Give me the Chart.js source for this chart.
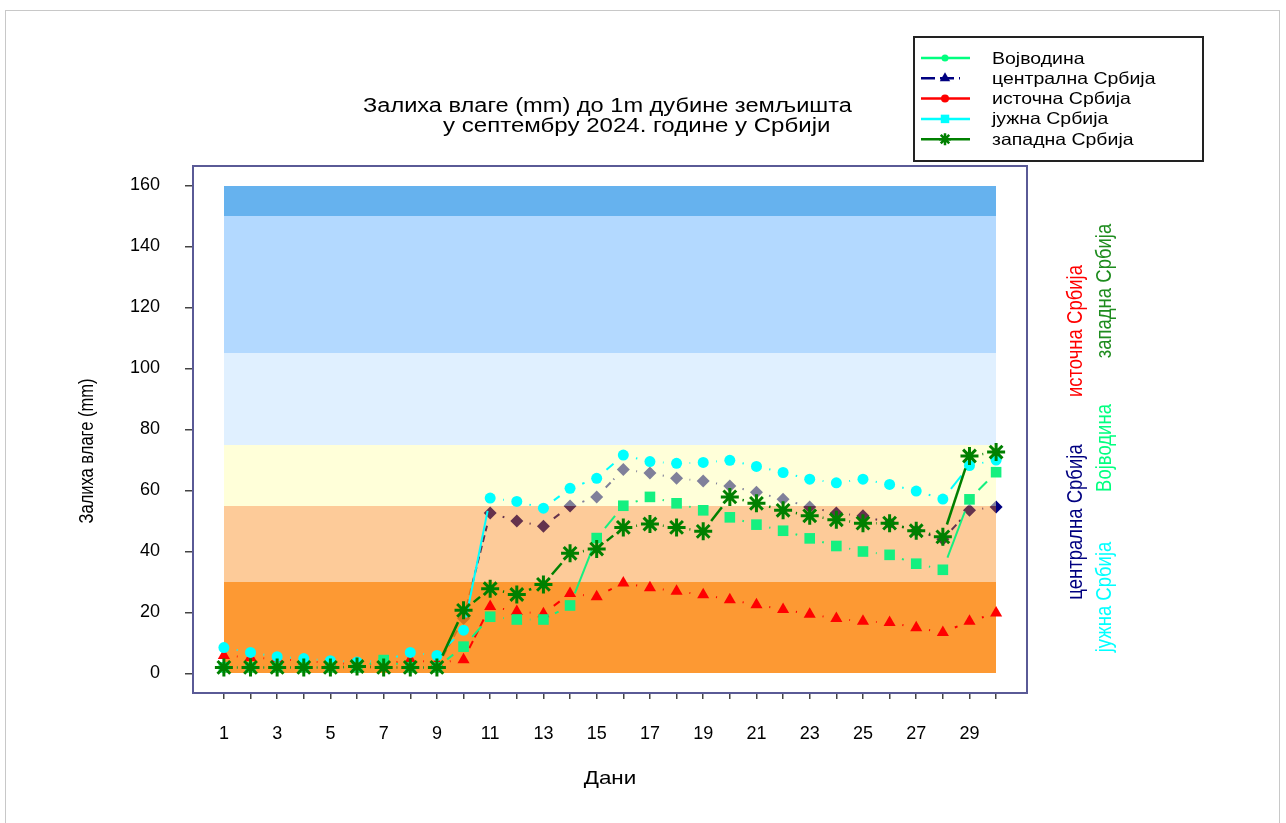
<!DOCTYPE html>
<html>
<head>
<meta charset="utf-8">
<script src="https://cdn.jsdelivr.net/npm/chart.js@4.4.1/dist/chart.umd.min.js"></script>
<style>
  html, body { margin: 0; padding: 0; background: #fff; }
  #wrap { position: relative; width: 1286px; height: 823px; }
</style>
</head>
<body>
<div id="wrap"><canvas id="chart" width="1286" height="823"></canvas></div>
<script>
// days of September 2024
const days = [1,2,3,4,5,6,7,8,9,10,11,12,13,14,15,16,17,18,19,20,21,22,23,24,25,26,27,28,29,30];
const xTickLabels = ['1','3','5','7','9','11','13','15','17','19','21','23','25','27','29'];
const yTicks = [0,20,40,60,80,100,120,140,160];

const regions = ['Војводина','централна Србија','источна Србија','јужна Србија','западна Србија'];

// soil moisture (mm)
const vojvodina  = [2,2,2,2,2,2,4.4,2,2,8.8,18.6,17.7,17.7,22.3,44.4,55,57.9,55.8,53.5,51.2,48.8,46.8,44.3,41.8,40,38.9,36,34,57.1,66];
const centralna  = [2,2,2,2,2,2,2,2,2,18,52.6,50,48.3,54.9,57.9,66.9,65.7,64,63.1,61.5,59.4,57.1,54.6,52.6,51.7,49.3,46.8,44,53.5,54.6];
const istocna    = [5.9,5.2,4.8,4,3.5,3,3,4.5,3.5,4.5,22,20.3,19.6,26.2,25.2,29.7,28.1,27,25.8,24.2,22.5,21,19.4,18,17.1,16.7,15,13.4,17.1,19.8];
const juzna      = [8.5,6.9,5.5,4.9,4.2,3.8,4.2,6.9,5.9,14.2,57.5,56.4,54.2,60.7,64,71.6,69.5,68.9,69.2,69.9,67.9,65.9,63.7,62.5,63.7,62,59.8,57.2,68.2,70];
const zapadna    = [2,2,2,2,2,2.3,2,2,2,20.7,27.8,25.9,29.2,39.4,40.8,47.9,49,47.9,46.6,57.9,55.8,53.5,51.7,50.4,49.3,49.3,46.8,44.8,71.3,72.6];

// background moisture classes
const bandLimits = [0,30,55,75,105,150,160];
const bandColors = ['#FD9933','#FDCB99','#FFFFD9','#E0F0FF','#B3D9FF','#66B2EE'];
const bandAlpha  = [0.85,0.4,0.5,0.5,0.5,0.75];

const FONT = '"Liberation Sans", Arial, sans-serif';
const SX = 1.18;          // text in the original is drawn a bit wide
const CENTRAL = 1;

function pts(vals) { return days.map((d, i) => ({ x: d, y: vals[i] })); }

function underColor(hex, a) {
  const n = parseInt(hex.slice(1), 16);
  const c = [n >> 16, (n >> 8) & 255, n & 255].map(v => Math.max(0, Math.min(255, Math.round((v - 255 * (1 - a)) / a))));
  return `rgba(${c[0]},${c[1]},${c[2]},${a})`;
}

function gappedLine(ctx, points, st, gap) {
  ctx.save();
  ctx.strokeStyle = st.color;
  ctx.lineWidth = st.width;
  ctx.setLineDash(st.dash || []);
  for (let i = 1; i < points.length; i++) {
    const a = points[i - 1], b = points[i];
    const dx = b.x - a.x, dy = b.y - a.y, len = Math.hypot(dx, dy);
    if (len <= 2 * gap) continue;
    const ux = dx / len, uy = dy / len;
    ctx.beginPath();
    ctx.moveTo(a.x + ux * gap, a.y + uy * gap);
    ctx.lineTo(b.x - ux * gap, b.y - uy * gap);
    ctx.stroke();
  }
  ctx.restore();
}

// horizontal text, widened like the original
function wideText(ctx, text, x, y, size, align, color, rot) {
  ctx.save();
  ctx.translate(x, y);
  if (rot) { ctx.rotate(rot); ctx.scale(1, SX); } else ctx.scale(SX, 1);
  ctx.font = size + 'px ' + FONT;
  ctx.textAlign = align;
  ctx.textBaseline = 'middle';
  ctx.fillStyle = color;
  ctx.fillText(text, 0, 0);
  ctx.restore();
}

const datasets = [
  { label: regions[0], data: pts(vojvodina), order: 1,
    pointStyle: 'rect', pointRadius: 7.5, pointBackgroundColor: '#14F080', pointBorderWidth: 0,
    gapLine: { color: '#14F080', width: 2 } },
  { label: regions[1], data: pts(centralna), order: 4,
    pointStyle: 'rectRot', pointRadius: 6.5, pointBackgroundColor: '#000080', pointBorderWidth: 0,
    gapLine: { color: '#000080', width: 2, dash: [7, 4] } },
  { label: regions[2], data: pts(istocna), order: 3,
    pointStyle: 'triangle', pointRadius: 7, pointBackgroundColor: '#FF0000', pointBorderWidth: 0,
    gapLine: { color: '#FF0000', width: 2, dash: [8, 4] } },
  { label: regions[3], data: pts(juzna), order: 2,
    pointStyle: 'circle', pointRadius: 5.5, pointBackgroundColor: '#00FFFF', pointBorderWidth: 0,
    gapLine: { color: '#00FFFF', width: 2 } },
  { label: regions[4], data: pts(zapadna), order: 0,
    pointStyle: 'star', pointRadius: 9, pointBackgroundColor: '#008000', pointBorderColor: '#008000', pointBorderWidth: 3,
    gapLine: { color: '#008000', width: 2.5 } }
];

const legendItems = [
  { color: '#00FF7F', style: 'circle', r: 3.5, dash: [] },
  { color: '#000080', style: 'triangle', r: 6, dash: [14, 5], short: true },
  { color: '#FF0000', style: 'circle', r: 4, dash: [] },
  { color: '#00FFFF', style: 'rect', r: 6, dash: [] },
  { color: '#008000', style: 'star', r: 6, dash: [], bw: 3 }
];

const sideLabels = [
  { text: 'источна Србија',   color: '#FF0000', x: 1076, y: 331 },
  { text: 'централна Србија', color: '#000080', x: 1076, y: 522 },
  { text: 'западна Србија',   color: '#1E8C1E', x: 1105, y: 291 },
  { text: 'Војводина',        color: '#00FF7F', x: 1105, y: 448 },
  { text: 'јужна Србија',     color: '#00FFFF', x: 1105, y: 597 }
];

const soilPlot = {
  id: 'soilPlot',
  beforeDraw(chart) {
    const ctx = chart.ctx;
    ctx.save();
    ctx.strokeStyle = '#c8c8c8';
    ctx.lineWidth = 1;
    ctx.strokeRect(5.5, 10.5, 1274, 830);
    ctx.restore();
  },
  beforeDatasetDraw(chart, args) {
    const ds = chart.data.datasets[args.index];
    gappedLine(chart.ctx, args.meta.data.map(p => ({ x: p.x, y: p.y })), ds.gapLine, 13);
  },
  afterDatasetDraw(chart, args) {
    if (args.index !== CENTRAL) return;
    const { ctx, scales: { x, y } } = chart;
    const x0 = Math.round(x.getPixelForValue(days[0]));
    const x1 = Math.round(x.getPixelForValue(days[days.length - 1]));
    ctx.save();
    for (let i = 0; i < bandColors.length; i++) {
      const yb = Math.round(y.getPixelForValue(bandLimits[i]));
      const yt = Math.round(y.getPixelForValue(bandLimits[i + 1]));
      ctx.fillStyle = underColor(bandColors[i], bandAlpha[i]);
      ctx.fillRect(x0, yt, x1 - x0, yb - yt);
    }
    ctx.restore();
  },
  afterDraw(chart) {
    const { ctx, chartArea: ca } = chart;
    ctx.save();
    // plot frame
    ctx.strokeStyle = '#5A5A96';
    ctx.lineWidth = 2;
    ctx.strokeRect(ca.left, ca.top, ca.right - ca.left, ca.bottom - ca.top);

    // titles
    wideText(ctx, 'Залиха влаге (mm) до 1m дубине земљишта', 363, 106, 20, 'left', '#000');
    wideText(ctx, 'у септембру 2024. године у Србији', 443, 126, 20.4, 'left', '#000');
    wideText(ctx, 'Дани', (ca.left + ca.right) / 2, 779, 19, 'center', '#000');
    wideText(ctx, 'Залиха влаге (mm)', 88, 451, 16.5, 'center', '#000', -Math.PI / 2);

    // legend
    ctx.strokeStyle = '#222';
    ctx.lineWidth = 2;
    ctx.strokeRect(914, 37, 289, 124);
    legendItems.forEach((it, i) => {
      const yy = 58 + i * 20.3;
      ctx.save();
      ctx.strokeStyle = it.color;
      ctx.fillStyle = it.color;
      ctx.lineWidth = 2.5;
      ctx.setLineDash(it.dash);
      ctx.beginPath();
      ctx.moveTo(921, yy);
      ctx.lineTo(it.short ? 960 : 970, yy);
      ctx.stroke();
      ctx.setLineDash([]);
      Chart.helpers.drawPoint(ctx, { pointStyle: it.style, radius: it.r, borderWidth: it.bw || 0, rotation: 0 }, 945, yy);
      ctx.restore();
      wideText(ctx, regions[i], 992, yy + 1, 16.5, 'left', '#000');
    });

    // vertical labels on the right
    sideLabels.forEach(s => wideText(ctx, s.text, s.x, s.y, 18.5, 'center', s.color, -Math.PI / 2));
    ctx.restore();
  }
};

new Chart(document.getElementById('chart'), {
  type: 'line',
  data: { datasets },
  plugins: [soilPlot],
  options: {
    responsive: false,
    animation: false,
    devicePixelRatio: 1,
    events: [],
    showLine: false,
    layout: { padding: { left: 0, top: 166, right: 259, bottom: 0 } },
    plugins: { legend: { display: false }, tooltip: { enabled: false } },
    scales: {
      x: {
        type: 'linear', min: -0.16, max: 31.16,
        afterBuildTicks: ax => { ax.ticks = days.map(v => ({ value: v })); },
        afterFit: ax => { ax.height = 130; },
        ticks: {
          autoSkip: false, maxRotation: 0, padding: 24, color: '#000',
          font: { family: FONT, size: 18 },
          callback: v => xTickLabels.includes(String(v)) ? String(v) : ''
        },
        grid: { drawOnChartArea: false, tickLength: 6, color: '#444', lineWidth: 1.5 },
        border: { display: false }
      },
      y: {
        type: 'linear', min: -6.4, max: 166.4,
        afterBuildTicks: ax => { ax.ticks = yTicks.map(v => ({ value: v })); },
        afterFit: ax => { ax.width = 193; },
        ticks: { padding: 25, color: '#000', font: { family: FONT, size: 18 } },
        grid: { drawOnChartArea: false, tickLength: 8, color: '#444', lineWidth: 1.5 },
        border: { display: false }
      }
    }
  }
});
</script>
</body>
</html>
